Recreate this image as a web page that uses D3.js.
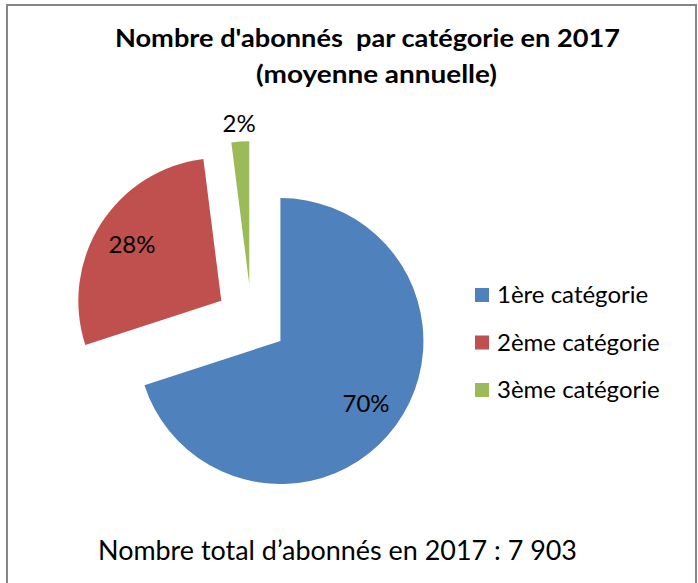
<!DOCTYPE html>
<html lang="fr">
<head>
<meta charset="utf-8">
<script src="https://cdn.jsdelivr.net/npm/d3@7"></script>
<style>
  html, body { margin: 0; padding: 0; background: #fff; }
  svg { display: block; }
  text { font-family: Lato, "Open Sans", "Noto Sans", sans-serif; fill: #000; }
</style>
</head>
<body>
<svg id="chart" width="698" height="583"></svg>
<script>
// Subscriber share by category, 2017 (annual average)
const categories = ["1ère catégorie", "2ème catégorie", "3ème catégorie"];
const shares = [70, 28, 2];
const colors = ["#4F81BD", "#C0504D", "#9BBB59"];
const titleLines = ["Nombre d'abonnés\u00a0 par catégorie en 2017", "(moyenne annuelle)"];
const footnote = "Nombre total d’abonnés en 2017 : 7 903";

const W = 698, H = 583;
const svg = d3.select("#chart");

// outer frame (open at the bottom edge of the canvas)
svg.append("rect")
  .attr("x", 7).attr("y", 5)
  .attr("width", 689).attr("height", 620)
  .attr("fill", "#fff")
  .attr("stroke", "#868686")
  .attr("stroke-width", 2);

// title
const title = svg.append("g").attr("font-weight", 700).attr("font-size", 25);
title.append("text")
  .attr("x", 115).attr("y", 47)
  .attr("textLength", 505).attr("lengthAdjust", "spacingAndGlyphs")
  .text(titleLines[0]);
title.append("text")
  .attr("x", 256).attr("y", 83)
  .attr("textLength", 241).attr("lengthAdjust", "spacingAndGlyphs")
  .text(titleLines[1]);

// pie
const cx = 251.5, cy = 320, radius = 143;
const explode = radius * 0.25;

const pie = d3.pie().sort(null).value(d => d)(shares);
const arc = d3.arc().innerRadius(0).outerRadius(radius);

const slices = svg.append("g").attr("transform", `translate(${cx},${cy})`);

pie.forEach((p, i) => {
  const mid = (p.startAngle + p.endAngle) / 2;
  const ox = Math.sin(mid) * explode, oy = -Math.cos(mid) * explode;
  const g = slices.append("g").attr("transform", `translate(${ox},${oy})`);
  g.append("path").attr("d", arc(p)).attr("fill", colors[i]);

  // small slices get their label outside the rim
  const k = shares[i] < 5 ? 1.13 : 0.74;
  const lx = Math.sin(mid) * radius * k, ly = -Math.cos(mid) * radius * k;
  g.append("text")
    .attr("x", lx).attr("y", ly)
    .attr("text-anchor", "middle")
    .attr("dy", "0.36em")
    .attr("font-size", 24)
    .text(d3.format(".0f")(shares[i]) + "%");
});

// legend
const legend = svg.append("g");
const rowY = d3.scalePoint().domain(categories).range([295, 390]);
categories.forEach((c, i) => {
  const y = rowY(c);
  legend.append("rect")
    .attr("x", 475).attr("y", y - 7)
    .attr("width", 14).attr("height", 14)
    .attr("fill", colors[i]);
  legend.append("text")
    .attr("x", 497).attr("y", y + 8)
    .attr("font-size", 24)
    .text(c);
});

// total subscribers
svg.append("text")
  .attr("x", 98).attr("y", 560)
  .attr("font-size", 26)
  .attr("textLength", 479).attr("lengthAdjust", "spacingAndGlyphs")
  .text(footnote);
</script>
</body>
</html>
